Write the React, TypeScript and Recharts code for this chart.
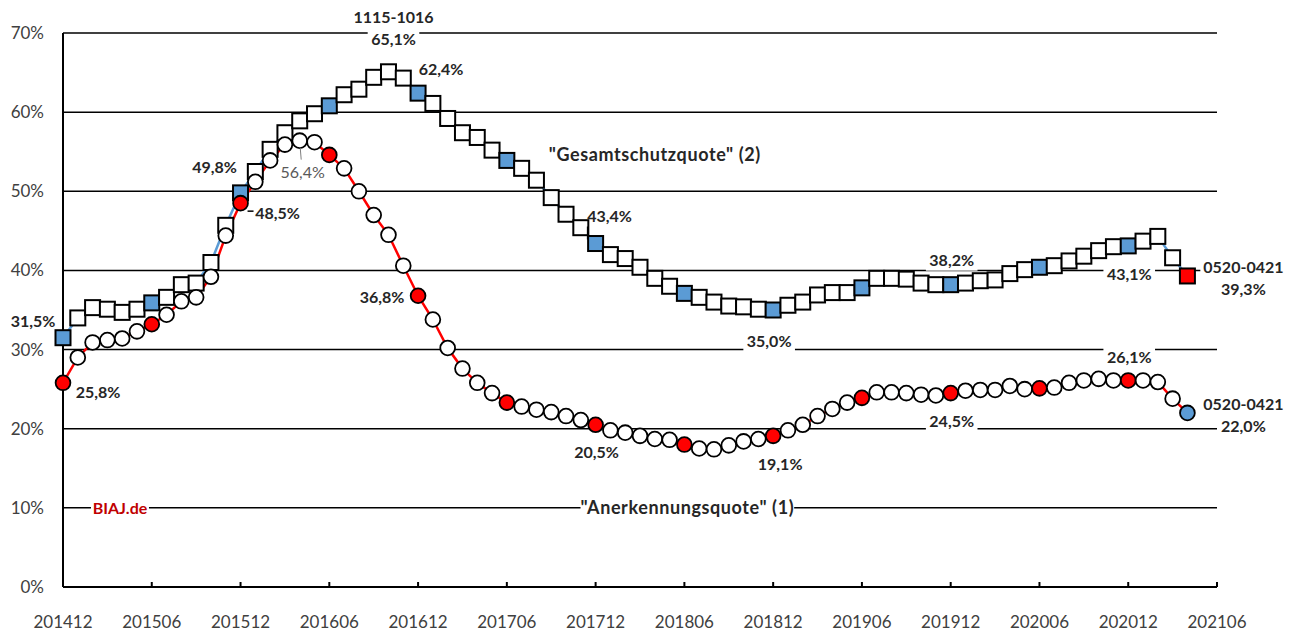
import { LineChart, Line, XAxis, YAxis, CartesianGrid, ReferenceDot } from 'recharts';

// monthly values, 201412 .. 202104 (rolling 12-month quotas, %)
const TICK_LABELS = [
  '201412', '201506', '201512', '201606', '201612', '201706', '201712',
  '201806', '201812', '201906', '201912', '202006', '202012', '202106',
];

const ANERKENNUNG = [
  25.8, 29.0, 30.9, 31.2, 31.4, 32.3, 33.2, 34.4, 36.1, 36.6, 39.2, 44.4,
  48.5, 51.2, 53.9, 55.9, 56.4, 56.2, 54.6, 52.9, 50.0, 47.0, 44.5, 40.6,
  36.8, 33.8, 30.2, 27.6, 25.8, 24.5, 23.3, 22.8, 22.4, 22.1, 21.6, 21.1,
  20.5, 19.8, 19.5, 19.1, 18.7, 18.6, 18.0, 17.5, 17.4, 17.9, 18.4, 18.7,
  19.1, 19.8, 20.5, 21.6, 22.5, 23.3, 23.9, 24.6, 24.6, 24.5, 24.3, 24.2,
  24.5, 24.8, 24.9, 24.9, 25.4, 25.0, 25.1, 25.2, 25.8, 26.1, 26.3, 26.1,
  26.1, 26.1, 25.9, 23.8, 22.0,
];

const GESAMTSCHUTZ = [
  31.5, 34.0, 35.3, 35.1, 34.7, 35.1, 35.9, 36.6, 38.2, 38.4, 41.0, 45.7,
  49.8, 52.5, 55.3, 57.4, 58.9, 59.8, 60.8, 62.2, 62.9, 64.4, 65.1, 64.3,
  62.4, 61.1, 59.2, 57.4, 56.8, 55.2, 53.9, 52.9, 51.4, 49.2, 47.1, 45.4,
  43.4, 42.0, 41.5, 40.4, 39.0, 38.0, 37.1, 36.6, 36.0, 35.5, 35.4, 35.1,
  35.0, 35.6, 36.0, 36.9, 37.2, 37.2, 37.8, 39.0, 39.0, 38.9, 38.4, 38.2,
  38.2, 38.4, 38.7, 38.8, 39.6, 40.1, 40.4, 40.6, 41.2, 41.8, 42.5, 43.0,
  43.1, 43.7, 44.3, 41.6, 39.3,
];

const Y_TICKS = [0, 10, 20, 30, 40, 50, 60, 70];

const FONT = 'Lato, "Open Sans", sans-serif';
const BLUE = '#5b9bd5';
const RED = '#ff0000';
const LAST = ANERKENNUNG.length - 1;

const data = ANERKENNUNG.map((a, i) => ({ i, a, g: GESAMTSCHUTZ[i] }));
const xTicks = TICK_LABELS.map((_, k) => k * 6);

type Note = {
  x: number;
  y: number;
  dx: number;
  dy: number;
  lines: string[];
  bg?: boolean;
  color?: string;
  bold?: boolean;
  wide?: boolean;
  lead?: [number, number, number, number];
};

const NOTES: Note[] = [
  { x: 0, y: GESAMTSCHUTZ[0], dx: -30, dy: -16, lines: ['31,5%'] },
  { x: 0, y: ANERKENNUNG[0], dx: 35, dy: 9, lines: ['25,8%'] },
  { x: 12, y: GESAMTSCHUTZ[12], dx: -26, dy: -26, lines: ['49,8%'] },
  { x: 12, y: ANERKENNUNG[12], dx: 37, dy: 10, lines: ['48,5%'], lead: [7, 8, 13, 8] },
  { x: 16, y: ANERKENNUNG[16], dx: 3, dy: 32, lines: ['56,4%'], bold: false, color: '#595959', lead: [0.5, 7, 1.5, 19] },
  { x: 22, y: GESAMTSCHUTZ[22], dx: 5, dy: -55, lines: ['1115-1016', '65,1%'], bg: true },
  { x: 24, y: GESAMTSCHUTZ[24], dx: 23, dy: -24, lines: ['62,4%'] },
  { x: 40, y: 54.6, dx: 0, dy: 0, lines: ['"Gesamtschutzquote" (2)'], wide: true },
  { x: 36, y: GESAMTSCHUTZ[36], dx: 14, dy: -27, lines: ['43,4%'], lead: [-8, -17, -8, -4] },
  { x: 24, y: ANERKENNUNG[24], dx: -36, dy: 1, lines: ['36,8%'] },
  { x: 36, y: ANERKENNUNG[36], dx: 1, dy: 27, lines: ['20,5%'] },
  { x: 48, y: ANERKENNUNG[48], dx: 7, dy: 28, lines: ['19,1%'] },
  { x: 48, y: GESAMTSCHUTZ[48], dx: -4, dy: 31, lines: ['35,0%'], bg: true },
  { x: 60, y: GESAMTSCHUTZ[60], dx: 1, dy: -24, lines: ['38,2%'], bg: true },
  { x: 60, y: ANERKENNUNG[60], dx: 1, dy: 28, lines: ['24,5%'], bg: true },
  { x: 72, y: GESAMTSCHUTZ[72], dx: 1, dy: 28, lines: ['43,1%'], bg: true },
  { x: 72, y: ANERKENNUNG[72], dx: 1, dy: -23, lines: ['26,1%'], bg: true },
  { x: LAST, y: GESAMTSCHUTZ[LAST], dx: 56, dy: -9, lines: ['0520-0421', '39,3%'], bg: true },
  { x: LAST, y: ANERKENNUNG[LAST], dx: 56, dy: -9, lines: ['0520-0421', '22,0%'], bg: true },
  { x: 3.85, y: 10, dx: 0, dy: 0, lines: ['BIAJ.de'], bg: true, color: '#c00000' },
  { x: 42.2, y: 10, dx: 0, dy: 0, lines: ['"Anerkennungsquote" (1)'], bg: true, wide: true },
];

function textWidth(t: string, size: number, spacing: number) {
  let w = 0;
  for (const ch of t) {
    if (/[0-9]/.test(ch)) w += 0.58;
    else if (ch === ',' || ch === '.' || ch === ' ') w += 0.25;
    else if (ch === '%') w += 0.86;
    else if (ch === '-') w += 0.37;
    else if (ch === '"' || ch === '(' || ch === ')') w += 0.36;
    else w += 0.5;
  }
  return w * size + spacing * t.length;
}

function NoteShape({ cx, cy, note }: { cx: number; cy: number; note: Note }) {
  const size = note.wide ? 18 : 16;
  const spacing = note.wide ? 0.6 : 0;
  const lh = 22;
  const x0 = cx + note.dx;
  const y0 = cy + note.dy;
  const bold = note.bold !== false;
  return (
    <g>
      {note.lead && (
        <line
          x1={cx + note.lead[0]}
          y1={cy + note.lead[1]}
          x2={cx + note.lead[2]}
          y2={cy + note.lead[3]}
          stroke={bold ? '#000' : '#7f7f7f'}
          strokeWidth={bold ? 1.5 : 1}
        />
      )}
      {note.lines.map((t, k) => {
        const ty = y0 + k * lh;
        const w = textWidth(t, size, spacing) + 6;
        return (
          <g key={k}>
            {note.bg && <rect x={x0 - w / 2} y={ty - 10} width={w} height={20} fill="#fff" />}
            <text
              x={x0}
              y={ty}
              dy="0.36em"
              textAnchor="middle"
              fontFamily={FONT}
              fontSize={size}
              letterSpacing={spacing}
              fontWeight={bold ? 700 : 400}
              fill={note.color ?? '#262626'}
            >
              {t}
            </text>
          </g>
        );
      })}
    </g>
  );
}

function SquareDot(props: any) {
  const { cx, cy, index } = props;
  if (cx == null || cy == null) return <g key={`sq-${index}`} />;
  const fill = index === LAST ? RED : index % 6 === 0 ? BLUE : '#fff';
  return (
    <rect key={`sq-${index}`} x={cx - 7.5} y={cy - 7.5} width={15} height={15} fill={fill} stroke="#000" strokeWidth={2} />
  );
}

function CircleDot(props: any) {
  const { cx, cy, index } = props;
  if (cx == null || cy == null) return <g key={`ci-${index}`} />;
  const fill = index === LAST ? BLUE : index % 6 === 0 ? RED : '#fff';
  return <circle key={`ci-${index}`} cx={cx} cy={cy} r={7.4} fill={fill} stroke="#000" strokeWidth={1.8} />;
}

function XTick({ x, y, payload }: any) {
  return (
    <g>
      <line x1={x} y1={y} x2={x} y2={y - 5} stroke="#000" strokeWidth={2} />
      <text x={x} y={y + 41} textAnchor="middle" fontFamily={FONT} fontSize={17} fill="#404040">
        {TICK_LABELS[Math.round(payload.value / 6)]}
      </text>
    </g>
  );
}

export default function App() {
  return (
    <div style={{ position: 'absolute', left: 0, top: 0, width: 1294, height: 632, background: '#fff' }}>
      <LineChart width={1294} height={632} data={data} margin={{ top: 33, right: 77, bottom: 0, left: 13 }}>
        <CartesianGrid vertical={false} stroke="#000" strokeWidth={1.5} />
        <XAxis
          dataKey="i"
          type="number"
          domain={[0, 78]}
          ticks={xTicks}
          interval={0}
          height={45}
          tickSize={0}
          tickMargin={0}
          tickLine={false}
          axisLine={{ stroke: '#000', strokeWidth: 2 }}
          tick={<XTick />}
        />
        <YAxis
          type="number"
          domain={[0, 70]}
          ticks={Y_TICKS}
          width={50}
          tickSize={0}
          tickMargin={19}
          tickLine={false}
          axisLine={{ stroke: '#000', strokeWidth: 2 }}
          tickFormatter={(v: number) => `${v}%`}
          tick={{ fontFamily: FONT, fontSize: 17, fill: '#404040' }}
        />
        <Line
          dataKey="g"
          stroke={BLUE}
          strokeWidth={2.5}
          dot={SquareDot}
          activeDot={false}
          isAnimationActive={false}
        />
        <Line
          dataKey="a"
          stroke={RED}
          strokeWidth={2.5}
          dot={CircleDot}
          activeDot={false}
          isAnimationActive={false}
        />
        {NOTES.map((n, k) => (
          <ReferenceDot
            key={k}
            x={n.x}
            y={n.y}
            r={1}
            ifOverflow="visible"
            shape={(p: any) => <NoteShape cx={p.cx} cy={p.cy} note={n} />}
          />
        ))}
      </LineChart>
    </div>
  );
}
